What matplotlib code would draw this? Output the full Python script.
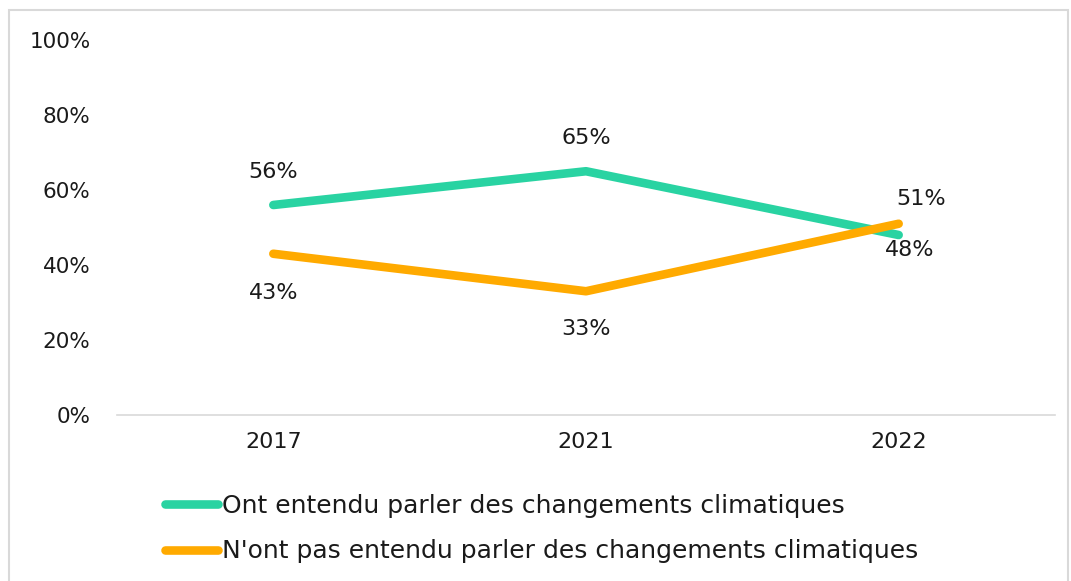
import matplotlib
matplotlib.use("Agg")
import matplotlib.pyplot as plt
from matplotlib.patches import Rectangle
from matplotlib.lines import Line2D

years = ["2017", "2021", "2022"]
heard = [56, 65, 48]
not_heard = [43, 33, 51]
series_names = ["Ont entendu parler des changements climatiques",
                "N'ont pas entendu parler des changements climatiques"]
yticks = [0, 20, 40, 60, 80, 100]

teal = "#29D3A2"
orange = "#FFAA00"
txt = "#1a1a1a"
plt.rcParams['font.family'] = ['DejaVu Sans']

fig = plt.figure(figsize=(10.71, 5.81), dpi=100)
fig.patches.append(Rectangle((9/1071, -0.05), 1059/1071, 1.05 - 10/581, transform=fig.transFigure,
                             fill=False, edgecolor="#D9D9D9", linewidth=1.5))
ax = fig.add_axes([117/1071, 1 - 415/581, (1055 - 117)/1071, (415 - 40)/581])

x = list(range(len(years)))
ax.plot(x, heard, color=teal, lw=6.2, solid_capstyle='round', solid_joinstyle='round')
ax.plot(x, not_heard, color=orange, lw=6.2, solid_capstyle='round', solid_joinstyle='round')

# labels: offsets in points (dx, dy)
heard_off = [(0, 24), (0, 24), (8, -11)]
not_off = [(0, -28), (0, -27), (16, 18)]
for i, v in enumerate(heard):
    ax.annotate(f"{v}%", (i, v), xytext=heard_off[i], textcoords='offset points',
                ha='center', va='center', fontsize=16, color=txt)
for i, v in enumerate(not_heard):
    ax.annotate(f"{v}%", (i, v), xytext=not_off[i], textcoords='offset points',
                ha='center', va='center', fontsize=16, color=txt)

ax.set_xlim(-0.5, len(years) - 0.5)
ax.set_ylim(0, 100)
ax.set_yticks(yticks)
ax.set_yticklabels([f"{t}%" for t in yticks], fontsize=15.5, color=txt)
ax.set_xticks(x)
ax.set_xticklabels(years, fontsize=16, color=txt)
ax.tick_params(length=0, pad=12)
ax.tick_params(axis='y', pad=19)
for s in ['top', 'right', 'left']:
    ax.spines[s].set_visible(False)
ax.spines['bottom'].set_color('#D9D9D9')
ax.spines['bottom'].set_linewidth(1.2)

handles = [Line2D([0], [0], color=teal, lw=6.2, solid_capstyle='round'),
           Line2D([0], [0], color=orange, lw=6.2, solid_capstyle='round')]
fig.legend(handles, series_names, loc='upper left', bbox_to_anchor=(155/1071, 1 - 484/581),
           frameon=False, fontsize=18, handlelength=2.1, handletextpad=0.2,
           labelspacing=0.85, labelcolor=txt, borderaxespad=0)

fig.savefig("out.png", dpi=100)
